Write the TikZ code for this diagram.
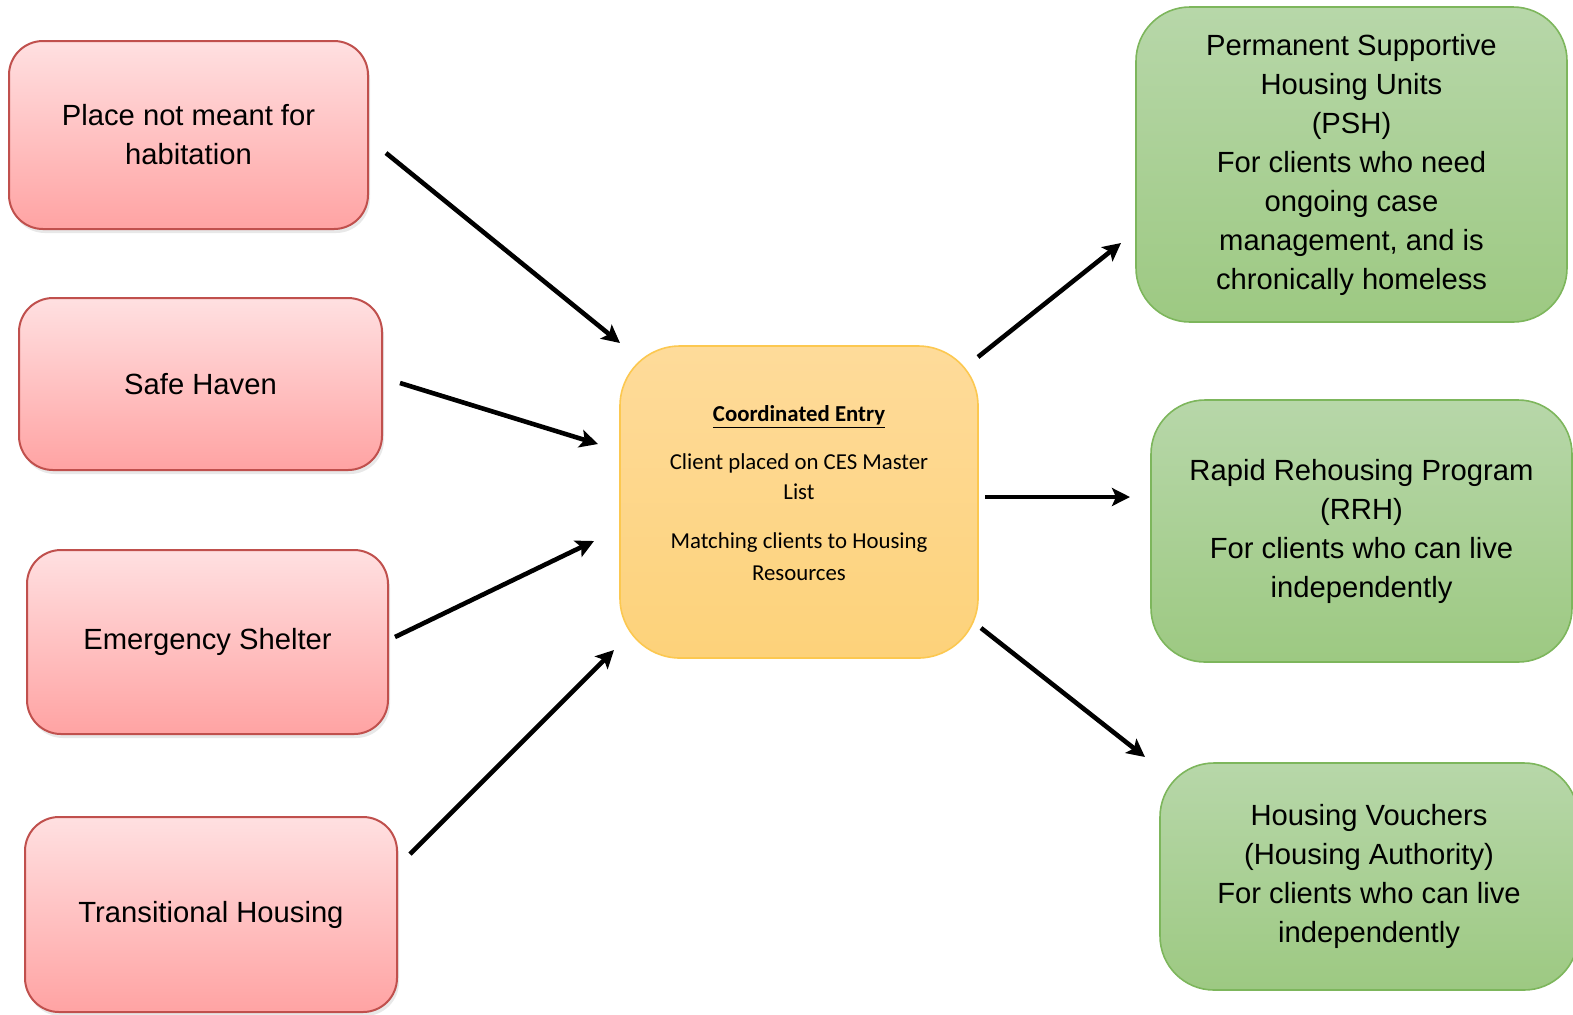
\documentclass[tikz,border=0pt]{standalone}
\usepackage{fontspec}
\setmainfont{Liberation Sans}
\newfontfamily\calibri{Carlito}
\usetikzlibrary{arrows.meta,shadows}
\definecolor{pinktop}{RGB}{255,224,225}
\definecolor{pinkbot}{RGB}{255,163,163}
\definecolor{pinkline}{RGB}{192,80,77}
\definecolor{greentop}{RGB}{183,215,169}
\definecolor{greenbot}{RGB}{157,201,130}
\definecolor{greenline}{RGB}{125,182,92}
\definecolor{goldtop}{RGB}{254,219,154}
\definecolor{goldbot}{RGB}{253,210,122}
\definecolor{goldline}{RGB}{252,200,80}
\tikzset{
  src/.style={draw=pinkline, line width=1pt, top color=pinktop, bottom color=pinkbot,
    rounded corners=17pt, align=center, font=\fontsize{14.6}{19.5}\selectfont,
    drop shadow={shadow xshift=1pt, shadow yshift=-2pt, opacity=0.18}},
  dst/.style={draw=greenline, line width=0.8pt, top color=greentop, bottom color=greenbot,
    rounded corners=27pt, align=center, font=\fontsize{14.6}{19.5}\selectfont},
  hub/.style={draw=goldline, line width=0.8pt, top color=goldtop, bottom color=goldbot,
    rounded corners=30pt},
  hubtext/.style={align=center, font=\calibri\fontsize{11.4}{15}\selectfont},
  arr/.style={line width=2.3pt, -{Stealth[length=9pt,width=9pt,inset=2pt]}},
}
\begin{document}
\begin{tikzpicture}[x=0.5pt,y=-0.5pt]
\useasboundingbox (0,0) rectangle (1573,1014);
\clip (0,0) rectangle (1573,1014);
\fill[white] (0,0) rectangle (1573,1014);
% sources
\node[src, minimum width=179.5pt, minimum height=94pt] (A) at (188.5,135) {Place not meant for\\habitation};
\node[src, minimum width=181.5pt, minimum height=86pt] (B) at (200.5,384) {Safe Haven};
\node[src, minimum width=180.5pt, minimum height=92pt] (C) at (207.5,642) {Emergency Shelter};
\node[src, minimum width=186pt, minimum height=97.5pt] (D) at (211,914.5) {Transitional Housing};
% hub
\node[hub, minimum width=179pt, minimum height=156pt] (E) at (799,502) {};
\node[hubtext] (Et) at (799,493) {\textbf{\underline{Coordinated Entry}}\\[9pt]Client placed on CES Master\\List\\[9.5pt]Matching clients to Housing\\[1pt]Resources};
% destinations
\node[dst, minimum width=215.5pt, minimum height=157.5pt] (F) at (1351.5,164.5) {Permanent Supportive\\Housing Units\\(PSH)\\For clients who need\\ongoing case\\management, and is\\chronically homeless};
\node[dst, minimum width=210.5pt, minimum height=131pt] (G) at (1361.5,531) {Rapid Rehousing Program\\(RRH)\\For clients who can live\\independently};
\node[dst, minimum width=209pt, minimum height=113.5pt] (H) at (1369,876.5) {Housing Vouchers\\(Housing Authority)\\For clients who can live\\independently};
% connector ends
\coordinate (a1) at (386,153);  \coordinate (e1) at (620,343);
\coordinate (a2) at (400,383);  \coordinate (e2) at (598,444);
\coordinate (a3) at (395,637);  \coordinate (e3) at (594,541);
\coordinate (a4) at (410,854);  \coordinate (e4) at (614,650);
\coordinate (o1) at (978,357);  \coordinate (f1) at (1121,243);
\coordinate (o2) at (985,497);  \coordinate (g1) at (1130,497);
\coordinate (o3) at (981,628);  \coordinate (h1) at (1145,757);
\draw[arr] (a1) -- (e1);
\draw[arr] (a2) -- (e2);
\draw[arr] (a3) -- (e3);
\draw[arr] (a4) -- (e4);
\draw[arr] (o1) -- (f1);
\draw[arr] (o2) -- (g1);
\draw[arr] (o3) -- (h1);
\end{tikzpicture}
\end{document}
